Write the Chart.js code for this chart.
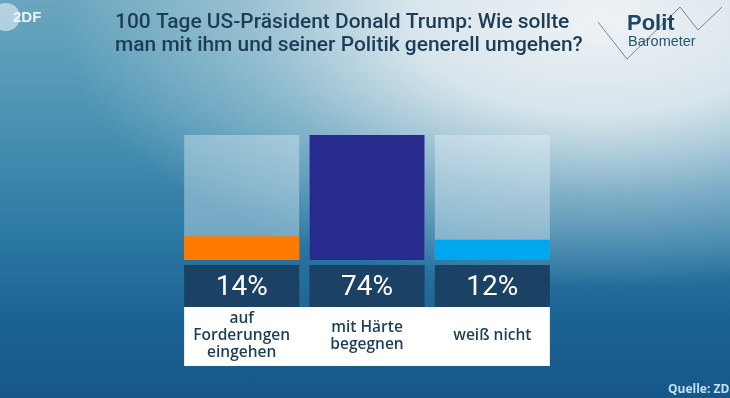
<!DOCTYPE html>
<html><head><meta charset="utf-8">
<script src="https://cdn.jsdelivr.net/npm/chart.js@4.4.1/dist/chart.umd.min.js"></script>
<style>
html,body{margin:0;padding:0;width:730px;height:398px;overflow:hidden;}
body{background:
 radial-gradient(ellipse 540px 270px at 600px 20px, rgba(238,242,245,1) 0%, rgba(226,235,240,0.92) 35%, rgba(200,220,230,0.5) 65%, rgba(160,195,215,0) 100%),
 linear-gradient(180deg,#6aa6be 0%,#4a93b3 30%,#2b78a3 60%,#1b6393 80%,#155788 100%);}
#wrap{position:absolute;left:0;top:0;width:730px;height:398px;}
</style></head>
<body>
<div id="wrap"><canvas id="c" width="730" height="398"></canvas></div>
<script>
const categories = [["auf","Forderungen","eingehen"],["mit Härte","begegnen"],["weiß nicht"]];
const values = [14, 74, 12];
const valueLabels = ["14%","74%","12%"];
const barColors = ["#ff7a00","#282b8e","#00a6ee"];
const scaleMax = 74;
const backgroundValues = [scaleMax, scaleMax, scaleMax];
const titleLines = ["100 Tage US-Präsident Donald Trump: Wie sollte","man mit ihm und seiner Politik generell umgehen?"];
const sourceText = "Quelle: ZDF";

const decor = {
  id:'decor',
  beforeDraw(chart){
    const ctx = chart.ctx;
    ctx.save();
    // ZDF logo
    ctx.fillStyle='rgba(255,255,255,0.5)';
    ctx.beginPath();ctx.arc(6,17,14,0,Math.PI*2);ctx.fill();
    ctx.fillStyle='rgba(255,255,255,0.85)';
    ctx.font='bold 15px "Liberation Sans", Arial';
    ctx.textBaseline='middle';
    ctx.fillText('2DF',13,18);
    // title
    ctx.fillStyle='#1c3d56';
    let fs = 21;
    ctx.font='500 '+fs+'px Roboto';
    const w = ctx.measureText(titleLines[1]).width;
    fs = fs*468/w;
    ctx.font='500 '+fs.toFixed(2)+'px Roboto';
    ctx.textBaseline='alphabetic';
    ctx.textAlign='left';
    ctx.fillText(titleLines[0],115,28);
    ctx.fillText(titleLines[1],115,51);
    // logo lines
    ctx.strokeStyle='rgba(80,100,115,0.75)';
    ctx.lineWidth=1;
    ctx.beginPath();
    ctx.moveTo(598,22);ctx.lineTo(627,59);ctx.lineTo(680,7);ctx.lineTo(698,30);ctx.lineTo(722,7);
    ctx.stroke();
    ctx.fillStyle='#1a4763';
    ctx.font='bold 22px "Liberation Sans", Arial';
    ctx.fillText('Polit',627,30);
    ctx.fillStyle='#2a5570';
    ctx.font='14.5px "Liberation Sans", Arial';
    ctx.fillText('Barometer',628,46);
    // source
    ctx.fillStyle='#bfe3f5';
    ctx.font='bold 12px "Open Sans"';
    ctx.fillText(sourceText,668,393);
    ctx.restore();
  },
  afterDatasetsDraw(chart){
    const ctx = chart.ctx;
    const meta = chart.getDatasetMeta(0);
    ctx.save();
    const first = meta.data[0], last = meta.data[meta.data.length-1];
    const l = first.x - first.width/2, r = last.x + last.width/2;
    ctx.fillStyle='#ffffff';
    ctx.fillRect(l,307,r-l,59);
    meta.data.forEach((bar,i)=>{
      const bl = bar.x - bar.width/2;
      ctx.fillStyle='#1b4164';
      ctx.fillRect(bl,265,bar.width,42);
      ctx.fillStyle='#ffffff';
      ctx.font='400 28px Roboto';
      ctx.textAlign='center';ctx.textBaseline='middle';
      ctx.fillText(valueLabels[i],bar.x,288);
      const lines = categories[i];
      const lh = 17;
      ctx.fillStyle='#1e3e58';
      ctx.font='600 15.5px "Open Sans"';
      const cy = 336;
      lines.forEach((t,k)=>{
        ctx.fillText(t,bar.x,cy + (k-(lines.length-1)/2)*lh);
      });
    });
    ctx.restore();
  }
};

new Chart(document.getElementById('c'),{
  type:'bar',
  data:{
    labels: categories.map(c=>c.join(' ')),
    datasets:[
      {data:values, backgroundColor:barColors, grouped:false, barPercentage:0.918, categoryPercentage:1},
      {data:backgroundValues, backgroundColor:'rgba(235,245,250,0.38)', grouped:false, barPercentage:0.918, categoryPercentage:1}
    ]
  },
  options:{
    responsive:false, animation:false,
    layout:{padding:{left:179,right:175,top:135,bottom:138}},
    plugins:{legend:{display:false},tooltip:{enabled:false}},
    scales:{
      x:{display:false},
      y:{display:false,min:0,max:scaleMax}
    }
  },
  plugins:[decor]
});
</script>
</body></html>
